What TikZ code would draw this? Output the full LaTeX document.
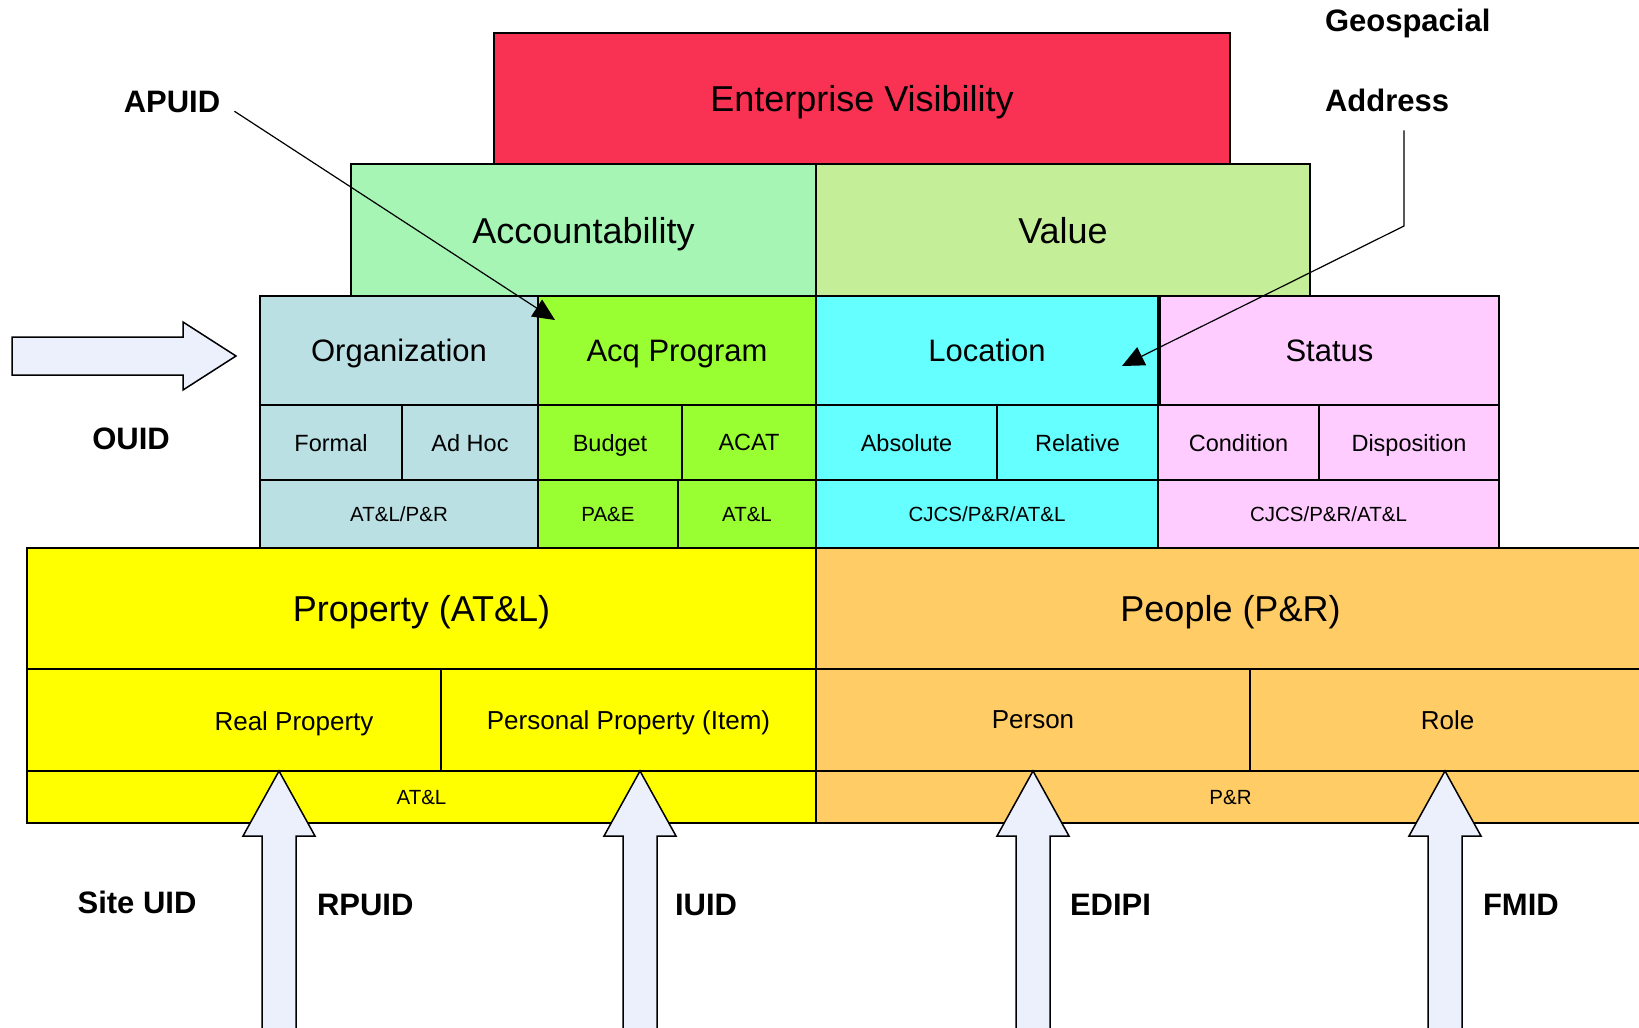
\documentclass[tikz,border=0pt]{standalone}
\usepackage{fontspec}
\setmainfont{Liberation Sans}
\usetikzlibrary{arrows.meta,calc}

\definecolor{evc}{RGB}{249,49,82}
\definecolor{accc}{RGB}{166,245,181}
\definecolor{valc}{RGB}{196,238,152}
\definecolor{orgc}{RGB}{186,224,227}
\definecolor{acqc}{RGB}{153,255,51}
\definecolor{locc}{RGB}{102,255,255}
\definecolor{statc}{RGB}{255,204,255}
\definecolor{propc}{RGB}{255,255,0}
\definecolor{peoc}{RGB}{255,204,102}
\definecolor{arrc}{RGB}{236,240,252}

\begin{document}
\begin{tikzpicture}[x=1pt,y=-1pt,line width=1.5pt,
  every node/.style={align=center,inner sep=0pt,outer sep=0pt},
  cell/.style={draw,anchor=north west,text depth=0pt},
  bigtxt/.style={font=\fontsize{36}{40}\selectfont},
  midtxt/.style={font=\fontsize{31}{36}\selectfont},
  subtxt/.style={font=\fontsize{26}{30}\selectfont},
  smalltxt/.style={font=\fontsize{23.5}{28}\selectfont},
  tinytxt/.style={font=\fontsize{20.5}{24}\selectfont},
  tag/.style={font=\bfseries\fontsize{31}{36}\selectfont},
  pointer/.style={line width=1.2pt,-{Triangle[length=22pt,width=20pt]}},
  blockarrow/.style={draw,fill=arrc,line join=miter}]
\clip (0,0) rectangle (1639,1028);

\node[cell,fill=evc,minimum width=736,minimum height=131,bigtxt] (ev) at (494,33) {Enterprise Visibility};
\node[cell,fill=accc,minimum width=465,minimum height=132,bigtxt] (acc) at (351,164) {Accountability};
\node[cell,fill=valc,minimum width=494,minimum height=132,bigtxt] (value) at (816,164) {Value};

\foreach \n/\xa/\xb/\c/\t in {org/260/538/orgc/Organization, acq/538/816/acqc/Acq Program,
    loc/816/1158/locc/Location, status/1160/1499/statc/Status}
  \node[cell,fill=\c,minimum width={\xb-\xa},minimum height=109,midtxt] (\n) at (\xa,296) {\t};

\foreach \n/\xa/\xb/\c/\t in {formal/260/402/orgc/Formal, adhoc/402/538/orgc/Ad Hoc,
    budget/538/682/acqc/Budget, acat/682/816/acqc/ACAT,
    absolute/816/997/locc/Absolute, relative/997/1158/locc/Relative,
    condition/1158/1319/statc/Condition, disposition/1319/1499/statc/Disposition}
  \node[cell,fill=\c,minimum width={\xb-\xa},minimum height=75,smalltxt] (\n) at (\xa,405) {\t};

\foreach \n/\xa/\xb/\c/\t in {orgown/260/538/orgc/{AT\&L/P\&R}, pae/538/678/acqc/{PA\&E},
    acqown/678/816/acqc/{AT\&L}, locown/816/1158/locc/{CJCS/P\&R/AT\&L},
    statown/1158/1499/statc/{CJCS/P\&R/AT\&L}}
  \node[cell,fill=\c,minimum width={\xb-\xa},minimum height=68,tinytxt] (\n) at (\xa,480) {\t};

\node[cell,fill=propc,minimum width=789,minimum height=121,bigtxt] (prop) at (27,548) {Property (AT\&L)};
\node[cell,fill=peoc,minimum width=829,minimum height=121,bigtxt] (people) at (816,548) {People (P\&R)};
\node[cell,fill=propc,minimum width=414,minimum height=102] (realprop) at (27,669) {};
\node[subtxt,text depth=0pt] (realtxt) at (294,721) {Real Property};
\node[cell,fill=propc,minimum width=375,minimum height=102,subtxt] (persprop) at (441,669) {Personal Property (Item)};
\node[cell,fill=peoc,minimum width=434,minimum height=102,subtxt] (person) at (816,669) {Person};
\node[cell,fill=peoc,minimum width=395,minimum height=102,subtxt] (role) at (1250,669) {Role};
\node[cell,fill=propc,minimum width=789,minimum height=52,tinytxt] (propown) at (27,771) {AT\&L};
\node[cell,fill=peoc,minimum width=829,minimum height=52,tinytxt] (peoown) at (816,771) {P\&R};

\foreach \x in {279,640,1033,1445}
  \draw[blockarrow] (\x,771) -- ++(36,65) -- ++(-19,0) -- ++(0,210) -- ++(-34,0)
    -- ++(0,-210) -- ++(-19,0) -- cycle;
\draw[blockarrow] (12,337) -- (183,337) -- (183,322) -- (236,356) -- (183,390)
  -- (183,375) -- (12,375) -- cycle;

\node[tag] (apuid) at (172,102) {APUID};
\node[tag,anchor=west] (geo) at (1325,23) {Geospacial};
\node[tag,anchor=west] (addr) at (1325,100) {Address};
\node[tag] (ouid) at (131,439) {OUID};
\node[tag] (siteuid) at (137,902) {Site UID};
\node[tag,anchor=west] (rpuid) at (317,905) {RPUID};
\node[tag,anchor=west] (iuid) at (675,905) {IUID};
\node[tag,anchor=west] (edipi) at (1070,905) {EDIPI};
\node[tag,anchor=west] (fmid) at (1483,905) {FMID};

\coordinate (acqtip) at (555,320);
\coordinate (addrbend) at (1404,226);
\coordinate (loctip) at (1122,366);
\draw[pointer,shorten <=17pt] (apuid.east) -- (acqtip);
\draw[pointer,shorten <=19pt] (addrbend |- addr.south) -- (addrbend) -- (loctip);
\end{tikzpicture}
\end{document}
